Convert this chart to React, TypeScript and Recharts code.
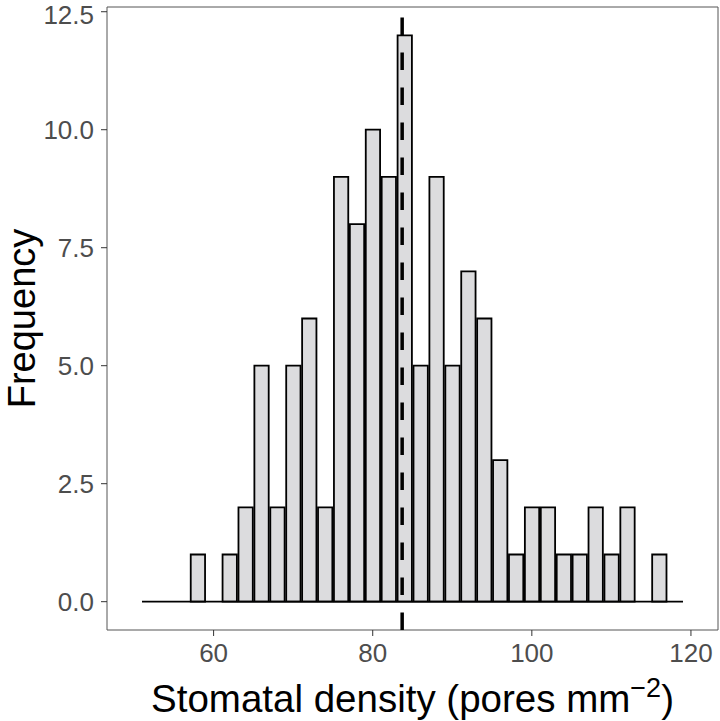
import React from 'react';
import { ComposedChart, Bar, XAxis, YAxis, ReferenceLine, ReferenceArea } from 'recharts';

// Histogram bins (bin width 2, centres) and counts
const binCenters = [52, 54, 56, 58, 60, 62, 64, 66, 68, 70, 72, 74, 76, 78, 80, 82, 84, 86, 88, 90, 92, 94, 96, 98, 100, 102, 104, 106, 108, 110, 112, 114, 116, 118];
const counts = [0, 0, 0, 1, 0, 1, 2, 5, 2, 5, 6, 2, 9, 8, 10, 9, 12, 5, 9, 5, 7, 6, 3, 1, 2, 2, 1, 1, 2, 1, 2, 0, 1, 0];
const BIN_WIDTH = 2;
const MEAN_VALUE = 83.7;

const xTicks = [60, 80, 100, 120];
const yTicks = [0, 2.5, 5, 7.5, 10, 12.5];
const X_DOMAIN: [number, number] = [46.6, 123.4];
const Y_DOMAIN: [number, number] = [-0.6, 12.6];

const data = binCenters.map((c, i) => ({ x: c, count: counts[i] }));

const W = 720;
const H = 721;
const MARGIN = { top: 7, right: 2, left: 0, bottom: 0 };
const YAXIS_W = 107;
const XAXIS_H = 91;
const plotW = W - YAXIS_W - MARGIN.right - MARGIN.left;
const barSize = (plotW * BIN_WIDTH) / (X_DOMAIN[1] - X_DOMAIN[0]);

const FONT = '"Liberation Sans", Arial, Helvetica, sans-serif';

const XTitle = (props: any) => {
  const vb = props.viewBox || {};
  const cx = vb.x + vb.width / 2;
  const y = vb.y + 82;
  return (
    <text x={cx} y={y} textAnchor="middle" fontFamily={FONT} fontSize={38.5} fill="#000">
      <tspan>Stomatal density (pores mm</tspan>
      <tspan dy={-15} fontSize={27}>−2</tspan>
      <tspan dy={15}>)</tspan>
    </text>
  );
};

const YTitle = (props: any) => {
  const vb = props.viewBox || {};
  const x = vb.x + 35;
  const cy = vb.y + vb.height / 2;
  return (
    <text x={x} y={cy} textAnchor="middle" fontFamily={FONT} fontSize={38} fill="#000" transform={`rotate(-90, ${x}, ${cy})`}>
      Frequency
    </text>
  );
};

export default function App() {
  return (
    <div style={{ position: 'absolute', left: 0, top: 0, width: W, height: H, background: '#fff' }}>
      <ComposedChart width={W} height={H} data={data} margin={MARGIN} barCategoryGap={0} barGap={0}>
        <XAxis
          dataKey="x"
          type="number"
          domain={X_DOMAIN}
          allowDataOverflow
          ticks={xTicks}
          axisLine={false}
          tickLine={{ stroke: '#333', strokeWidth: 1 }}
          tickSize={6}
          tickMargin={8}
          height={XAXIS_H}
          tick={{ fill: '#4D4D4D', fontSize: 26, fontFamily: FONT }}
          label={<XTitle />}
        />
        <YAxis
          type="number"
          domain={Y_DOMAIN}
          allowDataOverflow
          ticks={yTicks}
          tickFormatter={(v: number) => v.toFixed(1)}
          axisLine={false}
          tickLine={{ stroke: '#333', strokeWidth: 1 }}
          tickSize={6}
          tickMargin={7}
          width={YAXIS_W}
          tick={{ fill: '#4D4D4D', fontSize: 26, fontFamily: FONT }}
          label={<YTitle />}
        />
        <ReferenceArea
          x1={X_DOMAIN[0]}
          x2={X_DOMAIN[1]}
          y1={Y_DOMAIN[0]}
          y2={Y_DOMAIN[1]}
          fill="none"
          fillOpacity={0}
          stroke="#555"
          strokeWidth={1}
          ifOverflow="visible"
        />
        <Bar
          dataKey="count"
          fill="#DCDCDE"
          stroke="#000"
          strokeWidth={1.8}
          barSize={barSize}
          isAnimationActive={false}
        />
        <ReferenceLine
          segment={[
            { x: binCenters[0] - BIN_WIDTH / 2, y: 0 },
            { x: binCenters[binCenters.length - 1] + BIN_WIDTH / 2, y: 0 },
          ]}
          stroke="#000"
          strokeWidth={1.8}
          ifOverflow="visible"
        />
        <ReferenceLine
          segment={[
            { x: MEAN_VALUE, y: Y_DOMAIN[0] },
            { x: MEAN_VALUE, y: Y_DOMAIN[1] },
          ]}
          stroke="#000"
          strokeWidth={3.5}
          strokeDasharray="17.5 17.5"
          ifOverflow="visible"
        />
      </ComposedChart>
    </div>
  );
}
